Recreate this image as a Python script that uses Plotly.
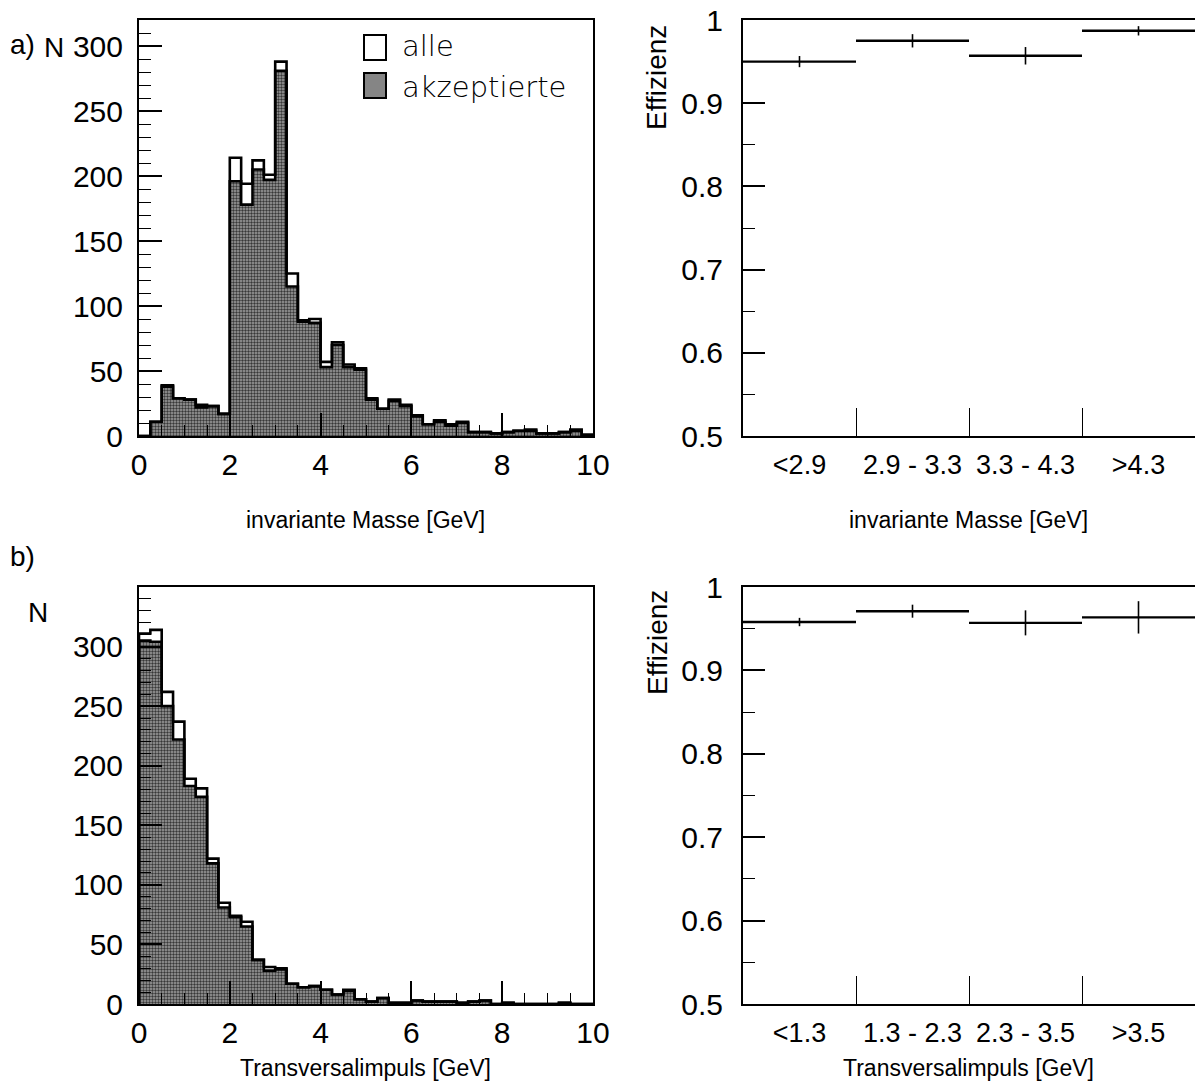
import numpy as np
import plotly.graph_objects as go

W, H = 1195, 1085

# ---------------- data ----------------
BIN_W = 0.25
mass_alle = [0, 11, 39, 29, 28, 24, 23, 17, 214, 194, 212, 201, 288, 125, 89, 90, 57, 72, 55, 52,
             29, 21, 28, 24, 16, 9, 12, 9, 11, 3, 3, 2, 3, 4, 5, 2, 2, 3, 5, 1]
mass_acc = [0, 11, 38, 29, 28, 22, 23, 17, 196, 178, 205, 197, 281, 115, 88, 87, 53, 70, 53, 51,
            28, 21, 27, 23, 15, 9, 11, 8, 10, 3, 3, 2, 3, 4, 4, 2, 2, 3, 4, 1]
pt_alle = [311, 314, 262, 237, 189, 181, 122, 85, 74, 69, 37, 31, 30, 17, 14, 15, 12, 8, 12, 4,
           2, 5, 1, 1, 3, 2, 2, 2, 1, 2, 3, 0, 1, 0, 0, 0, 0, 1, 0, 0]
pt_acc = [305, 304, 250, 222, 183, 174, 118, 81, 73, 65, 37, 28, 29, 17, 14, 15, 12, 8, 11, 4,
          2, 5, 1, 1, 3, 2, 2, 2, 1, 2, 3, 0, 1, 0, 0, 0, 0, 1, 0, 0]

mass_cats = ["<2.9", "2.9 - 3.3", "3.3 - 4.3", ">4.3"]
mass_eff = [0.950, 0.975, 0.957, 0.987]
mass_err = [0.0067, 0.008, 0.0105, 0.0056]

pt_cats = ["<1.3", "1.3 - 2.3", "2.3 - 3.5", ">3.5"]
pt_eff = [0.958, 0.971, 0.957, 0.9636]
pt_err = [0.005, 0.0078, 0.015, 0.0194]

hist_yticks = [0, 50, 100, 150, 200, 250, 300]
eff_yticks = [0.5, 0.6, 0.7, 0.8, 0.9, 1.0]
eff_yticktext = ["0.5", "0.6", "0.7", "0.8", "0.9", "1"]

# ---------------- helpers ----------------
def px(x):
    return x / W

def py(y):
    return 1 - y / H

TICK_FONT = dict(family="Liberation Sans, Arial, sans-serif", size=30, color="black")
CAT_FONT = dict(family="Liberation Sans, Arial, sans-serif", size=27, color="black")
TITLE_FONT = dict(family="Liberation Sans, Arial, sans-serif", size=23, color="black")
GRAY = "#858585"

def step_xy(vals):
    xs, ys = [0.0], [0.0]
    for i, v in enumerate(vals):
        xs += [i * BIN_W, (i + 1) * BIN_W]
        ys += [v, v]
    xs.append(len(vals) * BIN_W)
    ys.append(0.0)
    return xs, ys

fig = go.Figure()

def add_hist(alle, acc, xa, ya):
    centers = [(i + 0.5) * BIN_W for i in range(len(acc))]
    fig.add_trace(go.Bar(
        x=centers, y=acc, width=BIN_W, xaxis=xa, yaxis=ya,
        marker=dict(color=GRAY, line=dict(width=0),
                    pattern=dict(shape=".", bgcolor="#a0a0a0", fgcolor="#383838",
                                 size=3, solidity=0.5, fillmode="replace")),
        showlegend=False, hoverinfo="skip"))
    for vals in (alle, acc):
        xs, ys = step_xy(vals)
        fig.add_trace(go.Scatter(x=xs, y=ys, mode="lines", xaxis=xa, yaxis=ya,
                                 line=dict(color="black", width=2.6),
                                 showlegend=False, hoverinfo="skip"))

def add_eff(vals, errs, xa, ya):
    fig.add_trace(go.Scatter(
        x=list(range(len(vals))), y=vals, mode="markers", xaxis=xa, yaxis=ya,
        marker=dict(size=1, color="black"),
        error_x=dict(type="constant", value=0.5, width=0, thickness=2.4, color="black"),
        error_y=dict(type="data", array=errs, width=0, thickness=1.6, color="black"),
        showlegend=False, hoverinfo="skip"))

add_hist(mass_alle, mass_acc, "x", "y")
add_eff(mass_eff, mass_err, "x2", "y2")
add_hist(pt_alle, pt_acc, "x3", "y3")
add_eff(pt_eff, pt_err, "x4", "y4")

LX = [px(139), px(593)]
RX = [px(743), 1.0]
TOPY = [py(436), py(20)]
BOTY = [py(1004), py(587)]

def hist_x(domain, anchor):
    return dict(domain=domain, anchor=anchor, range=[0, 10], showline=True, mirror=True,
                linecolor="black", linewidth=2, ticks="inside", ticklen=23, tickwidth=1.5,
                tickcolor="black", tickvals=[0, 2, 4, 6, 8, 10], tickfont=TICK_FONT,
                ticklabelstandoff=1, automargin=False, tickangle=0,
                minor=dict(dtick=0.5, ticks="inside", ticklen=11, tickwidth=1.2, tickcolor="black"),
                showgrid=False, zeroline=False, fixedrange=True)

def hist_y(domain, anchor, top):
    return dict(domain=domain, anchor=anchor, range=[0, top], showline=True, mirror=True,
                linecolor="black", linewidth=2, ticks="inside", ticklen=23, tickwidth=1.5,
                tickcolor="black", tickvals=hist_yticks, tickfont=TICK_FONT,
                ticklabelstandoff=8, automargin=False,
                minor=dict(dtick=10, ticks="inside", ticklen=12, tickwidth=1.2, tickcolor="black"),
                showgrid=False, zeroline=False, fixedrange=True)

def eff_x(domain, anchor, cats):
    return dict(domain=domain, anchor=anchor, range=[-0.5, 3.5], showline=True, mirror=True,
                linecolor="black", linewidth=2, ticks="", tickvals=[0, 1, 2, 3], ticktext=cats,
                tickfont=CAT_FONT, ticklabelstandoff=4, automargin=False, tickangle=0,
                minor=dict(tickvals=[0.5, 1.5, 2.5], ticks="inside", ticklen=28, tickwidth=1.2,
                           tickcolor="black"),
                showgrid=False, zeroline=False, fixedrange=True)

def eff_y(domain, anchor):
    return dict(domain=domain, anchor=anchor, range=[0.5, 1.0], showline=True, mirror=False,
                linecolor="black", linewidth=2, ticks="inside", ticklen=22, tickwidth=1.5,
                tickcolor="black", tickvals=eff_yticks, ticktext=eff_yticktext,
                tickfont=TICK_FONT, ticklabelstandoff=12, automargin=False,
                minor=dict(dtick=0.05, ticks="inside", ticklen=12, tickwidth=1.2, tickcolor="black"),
                showgrid=False, zeroline=False, fixedrange=True)

fig.update_layout(
    width=W, height=H, margin=dict(l=0, r=0, t=0, b=0, autoexpand=False),
    paper_bgcolor="white", plot_bgcolor="white", bargap=0, barmode="overlay",
    xaxis=hist_x(LX, "y"), yaxis=hist_y(TOPY, "x", 320),
    xaxis2=eff_x(RX, "y2", mass_cats), yaxis2=eff_y(TOPY, "x2"),
    xaxis3=hist_x(LX, "y3"), yaxis3=hist_y(BOTY, "x3", 350),
    xaxis4=eff_x(RX, "y4", pt_cats), yaxis4=eff_y(BOTY, "x4"),
)

ann = []
def text(x, y, s, font, xanchor="center", yanchor="middle", angle=0):
    ann.append(dict(x=px(x), y=py(y), xref="paper", yref="paper", text=s, showarrow=False,
                    font=font, xanchor=xanchor, yanchor=yanchor, textangle=angle))

text(365, 520, "invariante Masse [GeV]", TITLE_FONT)
text(968, 520, "invariante Masse [GeV]", TITLE_FONT)
text(365, 1068, "Transversalimpuls [GeV]", TITLE_FONT)
text(968, 1068, "Transversalimpuls [GeV]", TITLE_FONT)
EFF_FONT = dict(family="Liberation Sans, Arial, sans-serif", size=28, color="black")
text(657, 78, "Effizienz", EFF_FONT, angle=-90)
text(657, 643, "Effizienz", EFF_FONT, angle=-90)
LAB_FONT = dict(family="Liberation Sans, Arial, sans-serif", size=28, color="black")
text(8, 44, "a)", LAB_FONT, xanchor="left")
text(42, 48, "N", LAB_FONT, xanchor="left")
text(8, 556, "b)", LAB_FONT, xanchor="left")
text(26, 612, "N", LAB_FONT, xanchor="left")
LEG_FONT = dict(family="DejaVu Sans, sans-serif", size=29, color="black", weight=200)
text(400, 46, "alle", LEG_FONT, xanchor="left")
text(400, 87, "akzeptierte", LEG_FONT, xanchor="left")

shapes = [
    dict(type="rect", xref="paper", yref="paper", x0=px(364), x1=px(386), y0=py(60), y1=py(35),
         line=dict(color="black", width=2), fillcolor="white"),
    dict(type="rect", xref="paper", yref="paper", x0=px(364), x1=px(386), y0=py(98), y1=py(73),
         line=dict(color="black", width=2), fillcolor=GRAY),
]
fig.update_layout(annotations=ann, shapes=shapes)

fig.write_html("out.html", config={"displayModeBar": False},
               post_script="document.body.style.margin='0';document.body.style.padding='0';")
